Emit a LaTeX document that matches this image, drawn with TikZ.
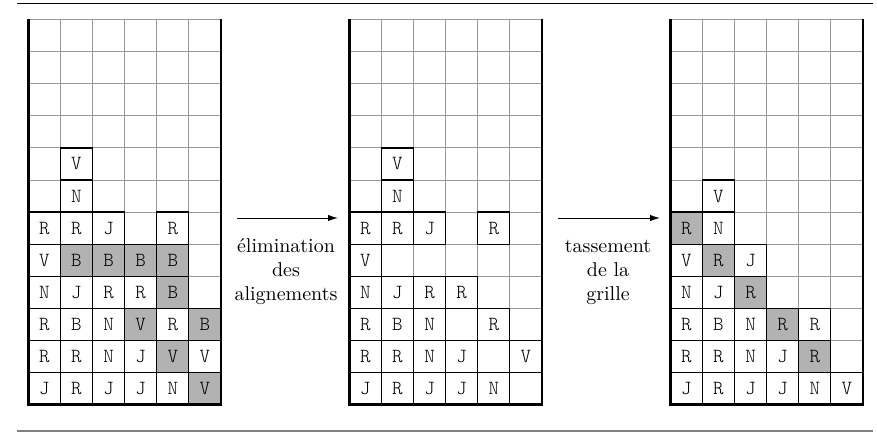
\documentclass[tikz,border=0pt]{standalone}
\usepackage{fontspec}
\newfontfamily\lightmono{lmmonolt10-regular.otf}
\usetikzlibrary{arrows.meta}
\colorlet{shade}{gray!60}
\tikzset{
  gline/.style={black!40, line width=0.5pt},
  frameline/.style={black, line width=1.3pt},
  cellbox/.style={draw=black, line width=0.65pt, minimum size=16.05pt, inner sep=0pt, font=\lightmono},
  steplabel/.style={align=center, font=\normalsize, inner sep=0pt},
  flowarrow/.style={-{Latex[length=5pt,width=3.2pt]}, line width=0.5pt},
}
\newcommand\gridframe[1]{%
  \foreach \i in {1,...,5} \draw[gline] ({#1+\i*32.1},19.5) -- ({#1+\i*32.1},404.7);
  \foreach \j in {0,...,11} \draw[gline] (#1,{19.5+\j*32.1}) -- ({#1+192.6},{19.5+\j*32.1});
}
\newcommand\gridborder[1]{%
  \draw[frameline] (#1,19.5) -- (#1,404.7) -- ({#1+192.6},404.7) -- ({#1+192.6},19.5);
}
\begin{document}
\begin{tikzpicture}[x=0.5pt,y=-0.5pt]
\useasboundingbox (0,0) rectangle (877,433);
% rules
\draw[line width=0.5pt] (17,3.3) -- (873,3.3);
\draw[gray, line width=0.9pt] (17,431) -- (873,431);
% grid 1
\gridframe{28.3}
\foreach \c/\r/\l/\f in {2/5/V/white, 2/6/N/white,
  1/7/R/white, 2/7/R/white, 3/7/J/white, 5/7/R/white,
  1/8/V/white, 2/8/B/shade, 3/8/B/shade, 4/8/B/shade, 5/8/B/shade,
  1/9/N/white, 2/9/J/white, 3/9/R/white, 4/9/R/white, 5/9/B/shade,
  1/10/R/white, 2/10/B/white, 3/10/N/white, 4/10/V/shade, 5/10/R/white, 6/10/B/shade,
  1/11/R/white, 2/11/R/white, 3/11/N/white, 4/11/J/white, 5/11/V/shade, 6/11/V/white,
  1/12/J/white, 2/12/R/white, 3/12/J/white, 4/12/J/white, 5/12/N/white, 6/12/V/shade}
  \node[cellbox, fill=\f] (a-\c-\r) at ({28.3+(\c-0.5)*32.1},{19.5+(\r-0.5)*32.1}) {\l};
\gridborder{28.3}
% grid 2
\gridframe{349.3}
\foreach \c/\r/\l/\f in {2/5/V/white, 2/6/N/white,
  1/7/R/white, 2/7/R/white, 3/7/J/white, 5/7/R/white,
  1/8/V/white,
  1/9/N/white, 2/9/J/white, 3/9/R/white, 4/9/R/white,
  1/10/R/white, 2/10/B/white, 3/10/N/white, 5/10/R/white,
  1/11/R/white, 2/11/R/white, 3/11/N/white, 4/11/J/white, 6/11/V/white,
  1/12/J/white, 2/12/R/white, 3/12/J/white, 4/12/J/white, 5/12/N/white}
  \node[cellbox, fill=\f] (b-\c-\r) at ({349.3+(\c-0.5)*32.1},{19.5+(\r-0.5)*32.1}) {\l};
\gridborder{349.3}
% grid 3
\gridframe{670.3}
\foreach \c/\r/\l/\f in {2/6/V/white,
  1/7/R/shade, 2/7/N/white,
  1/8/V/white, 2/8/R/shade, 3/8/J/white,
  1/9/N/white, 2/9/J/white, 3/9/R/shade,
  1/10/R/white, 2/10/B/white, 3/10/N/white, 4/10/R/shade, 5/10/R/white,
  1/11/R/white, 2/11/R/white, 3/11/N/white, 4/11/J/white, 5/11/R/shade,
  1/12/J/white, 2/12/R/white, 3/12/J/white, 4/12/J/white, 5/12/N/white, 6/12/V/white}
  \node[cellbox, fill=\f] (c-\c-\r) at ({670.3+(\c-0.5)*32.1},{19.5+(\r-0.5)*32.1}) {\l};
\gridborder{670.3}
% arrows and labels
\coordinate (a1s) at (237,218);
\coordinate (a1e) at (338,218);
\coordinate (a2s) at (558,218);
\coordinate (a2e) at (660,218);
\draw[flowarrow] (a1s) -- (a1e);
\draw[flowarrow] (a2s) -- (a2e);
\node[steplabel] (lab1) at (286,272) {élimination\\des\\alignements};
\node[steplabel] (lab2) at (608,272) {tassement\\de la\\grille};
\end{tikzpicture}
\end{document}
